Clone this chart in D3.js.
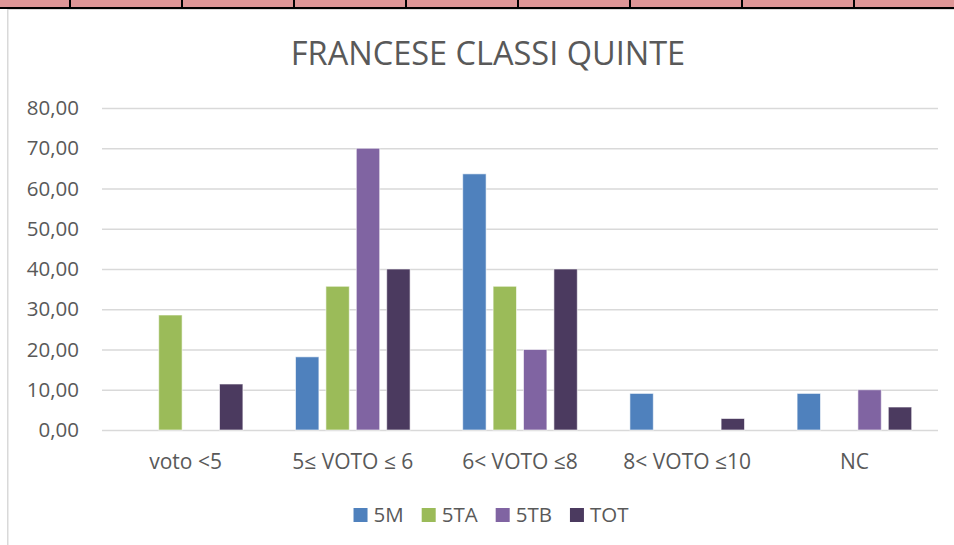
<!DOCTYPE html>
<html>
<head>
<meta charset="utf-8">
<script src="https://cdn.jsdelivr.net/npm/d3@7"></script>
<style>
  body { margin: 0; background: #fff; }
  svg { display: block; font-family: "Open Sans", sans-serif; }
</style>
</head>
<body>
<svg id="chart" width="954" height="545"></svg>
<script>
// data
const categories = ["voto <5", "5\u2264 VOTO \u2264 6", "6< VOTO \u22648", "8< VOTO \u226410", "NC"];
const series = ["5M", "5TA", "5TB", "TOT"];
const v5M  = [0, 18.18, 63.64, 9.09, 9.09];
const v5TA = [28.57, 35.71, 35.71, 0, 0];
const v5TB = [0, 70, 20, 0, 10];
const vTOT = [11.43, 40, 40, 2.86, 5.71];
const yTicks = [0, 10, 20, 30, 40, 50, 60, 70, 80];
const colors = ["#4f81bd", "#9bbb59", "#8064a2", "#4b3a5f"];

const values = { "5M": v5M, "5TA": v5TA, "5TB": v5TB, "TOT": vTOT };

const svg = d3.select("#chart");
const margin = { top: 108, right: 16, bottom: 115, left: 102 };
const width = 954 - margin.left - margin.right;
const height = 545 - margin.top - margin.bottom;

// spreadsheet bits around the chart
svg.append("rect").attr("x", 0).attr("y", 0).attr("width", 954).attr("height", 7).attr("fill", "#de9697");
svg.append("rect").attr("x", 0).attr("y", 7).attr("width", 954).attr("height", 2).attr("fill", "#000");
d3.range(70, 954, 112).forEach(x => {
  svg.append("rect").attr("x", x - 1).attr("y", 0).attr("width", 2).attr("height", 8).attr("fill", "#000");
});
svg.append("rect").attr("x", 7).attr("y", 9).attr("width", 947).attr("height", 1).attr("fill", "#d9d9d9");
svg.append("rect").attr("x", 7).attr("y", 9).attr("width", 1.5).attr("height", 536).attr("fill", "#d9d9d9");

// title
svg.append("text")
  .attr("x", 488).attr("y", 65)
  .attr("text-anchor", "middle")
  .attr("font-size", 32.5)
  .attr("fill", "#595959")
  .text("FRANCESE CLASSI QUINTE");

const g = svg.append("g").attr("transform", `translate(${margin.left},${margin.top})`);

const x0 = d3.scaleBand().domain(categories).range([0, width]);
const x1 = d3.scaleBand().domain(series).range([0, x0.bandwidth()]).paddingInner(0.23).paddingOuter(0.865);
const y = d3.scaleLinear().domain([0, 80]).range([height, 0]);

// gridlines + y labels
const yAxis = g.append("g")
  .call(d3.axisLeft(y).tickValues(yTicks).tickSize(-width).tickPadding(23)
    .tickFormat(d => d.toFixed(2).replace(".", ",")));
yAxis.select(".domain").remove();
yAxis.selectAll("line").attr("stroke", "#d9d9d9").attr("stroke-width", 1.6);
yAxis.selectAll("text").attr("fill", "#595959").attr("font-size", 20.5).attr("font-family", "Open Sans, sans-serif");

// bars
const groups = g.selectAll(".cat")
  .data(categories)
  .join("g")
  .attr("transform", d => `translate(${x0(d)},0)`);

groups.selectAll("rect")
  .data((c, i) => series.map((s, j) => ({ s, j, v: values[s][i] })).filter(d => d.v > 0))
  .join("rect")
  .attr("x", d => x1(d.s))
  .attr("width", x1.bandwidth())
  .attr("y", d => y(d.v))
  .attr("height", d => y(0) - y(d.v))
  .attr("fill", d => colors[d.j])
  .attr("stroke", "#fff")
  .attr("stroke-opacity", 0.6)
  .attr("stroke-width", 1);

// category labels
g.selectAll(".cl")
  .data(categories)
  .join("text")
  .attr("x", d => x0(d) + x0.bandwidth() / 2)
  .attr("y", 469 - margin.top)
  .attr("text-anchor", "middle")
  .attr("font-size", 21)
  .attr("fill", "#595959")
  .text(d => d);

// legend
const legend = svg.append("g");
let lx = 0;
series.forEach((s, j) => {
  const it = legend.append("g").attr("transform", `translate(${lx},0)`);
  it.append("rect").attr("x", 0).attr("y", 508).attr("width", 14).attr("height", 14).attr("fill", colors[j]);
  const t = it.append("text").attr("x", 20).attr("y", 522).attr("font-size", 20.5).attr("fill", "#595959").text(s);
  lx += 20 + t.node().getComputedTextLength() + 18;
});
const lw = lx - 18;
legend.attr("transform", `translate(${491 - lw / 2},0)`);
</script>
</body>
</html>
